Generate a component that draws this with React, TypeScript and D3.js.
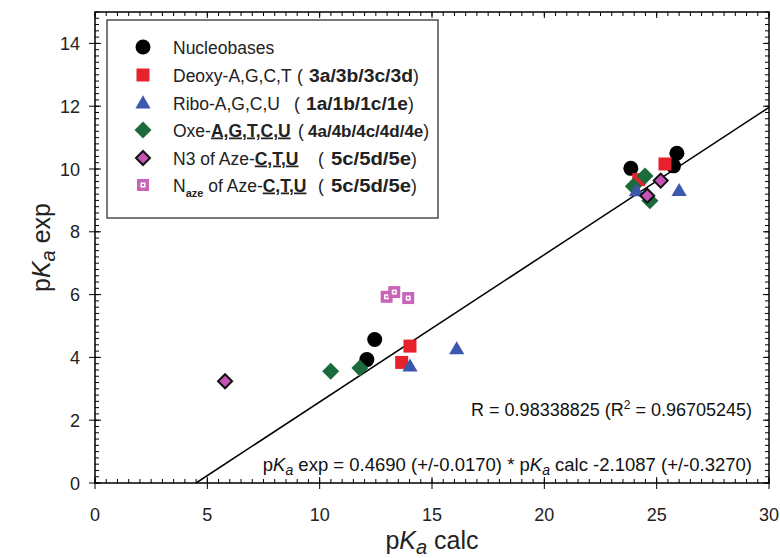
import React from 'react';
import * as d3 from 'd3';

const W = 780;
const H = 558;
const margin = {top: 12, right: 11, bottom: 75, left: 95};

// pKa calc / pKa exp pairs
const nucleobasesCalc = [12.45, 12.1, 23.85, 25.9, 25.75];
const nucleobasesExp = [4.57, 3.93, 10.02, 10.5, 10.1];

const deoxyCalc = [14.02, 13.65, 25.37, 24.2];
const deoxyExp = [4.36, 3.84, 10.16, 9.66];

const riboCalc = [14.02, 16.1, 26.0, 24.1];
const riboExp = [3.72, 4.27, 9.31, 9.3];

const oxeCalc = [10.49, 11.79, 23.96, 24.48, 24.7];
const oxeExp = [3.56, 3.66, 9.45, 9.78, 8.99];

const n3Calc = [5.79, 25.18, 24.58];
const n3Exp = [3.24, 9.63, 9.15];

const nazeCalc = [12.98, 13.32, 13.94];
const nazeExp = [5.93, 6.08, 5.89];

const slope = 0.469;
const intercept = -2.1087;

const xTicks = [0, 5, 10, 15, 20, 25, 30];
const yTicks = [0, 2, 4, 6, 8, 10, 12, 14];

const font = 'Liberation Sans, Arial, sans-serif';

const red = '#e8222c';
const blue = '#3c58ac';
const green = '#1b6b3c';
const purple = '#c455b4';
const pink = '#c964b8';

function zip(xs: number[], ys: number[]) {
  return xs.map((x, i) => ({x, y: ys[i]}));
}

function Marker({kind}: {kind: string}) {
  if (kind === 'circle') return <circle r={7.5} fill="#000" />;
  if (kind === 'square') return <rect x={-6.5} y={-6.5} width={13} height={13} fill={red} />;
  if (kind === 'triangle')
    return <path d={d3.symbol(d3.symbolTriangle, 100)()!} transform="translate(0,1)" fill={blue} />;
  if (kind === 'diamond') return <path d="M0,-8.5L8.5,0L0,8.5L-8.5,0Z" fill={green} />;
  if (kind === 'n3') return <path d="M0,-7L7,0L0,7L-7,0Z" fill={purple} stroke="#111" strokeWidth={2} />;
  return (
    <g>
      <rect x={-6} y={-6} width={12} height={12} fill={pink} />
      <rect x={-2.5} y={-2.5} width={5} height={5} fill="#fff" />
      <rect x={-1} y={-1} width={2} height={2} fill={pink} />
    </g>
  );
}

const series = [
  {kind: 'circle', pts: zip(nucleobasesCalc, nucleobasesExp)},
  {kind: 'square', pts: zip(deoxyCalc, deoxyExp)},
  {kind: 'diamond', pts: zip(oxeCalc, oxeExp)},
  {kind: 'triangle', pts: zip(riboCalc, riboExp)},
  {kind: 'n3', pts: zip(n3Calc, n3Exp)},
  {kind: 'naze', pts: zip(nazeCalc, nazeExp)},
];

export default function App() {
  const x = d3.scaleLinear().domain([0, 30]).range([margin.left, W - margin.right]);
  const y = d3.scaleLinear().domain([0, 15]).range([H - margin.bottom, margin.top]);
  const [x0, x1] = x.range();
  const [y0, y1] = y.range();

  const xMinor = d3.range(0, 30.01, 0.5);
  const yMinor = d3.range(0, 15.01, 0.2);

  const xStart = -intercept / slope;
  const line = d3.line<number>().x((d) => x(d)).y((d) => y(slope * d + intercept));

  const lx = 143;
  const tx = 173;
  const rows = [47, 75, 103, 130, 158, 185];
  const bold = {fontWeight: 'bold'} as const;
  const ul = {fontWeight: 'bold', textDecoration: 'underline'} as const;

  return (
    <svg width={W} height={H} style={{position: 'absolute', left: 0, top: 0}} fontFamily={font}>
      <rect width={W} height={H} fill="#fff" />

      {/* ticks */}
      <g stroke="#000" strokeWidth={1}>
        {xMinor.map((t) => (
          <g key={'xm' + t}>
            <line x1={x(t)} x2={x(t)} y1={y0} y2={y0 - 4} />
            <line x1={x(t)} x2={x(t)} y1={y1} y2={y1 + 4} />
          </g>
        ))}
        {yMinor.map((t) => (
          <g key={'ym' + t}>
            <line x1={x0} x2={x0 + 4} y1={y(t)} y2={y(t)} />
            <line x1={x1} x2={x1 - 4} y1={y(t)} y2={y(t)} />
          </g>
        ))}
        {xTicks.map((t) => (
          <g key={'xM' + t}>
            <line x1={x(t)} x2={x(t)} y1={y0 + 6} y2={y0 - 6} />
            <line x1={x(t)} x2={x(t)} y1={y1} y2={y1 + 6} />
          </g>
        ))}
        {yTicks.map((t) => (
          <g key={'yM' + t}>
            <line x1={x0 - 6} x2={x0 + 6} y1={y(t)} y2={y(t)} />
            <line x1={x1} x2={x1 - 6} y1={y(t)} y2={y(t)} />
          </g>
        ))}
      </g>

      <rect x={x0} y={y1} width={x1 - x0} height={y0 - y1} fill="none" stroke="#000" strokeWidth={1.5} />

      {xTicks.map((t) => (
        <text key={'xl' + t} x={x(t)} y={y0 + 38} textAnchor="middle" fontSize={18} fill="#222">{t}</text>
      ))}
      {yTicks.map((t) => (
        <text key={'yl' + t} x={x0 - 15} y={y(t) + 6.5} textAnchor="end" fontSize={18} fill="#222">{t}</text>
      ))}

      <text x={(x0 + x1) / 2} y={549} textAnchor="middle" fontSize={25} fill="#222">
        p<tspan fontStyle="italic">K</tspan><tspan fontStyle="italic" fontSize={20} dy={5}>a</tspan>
        <tspan dy={-5}> calc</tspan>
      </text>
      <text transform={`translate(50,${(y0 + y1) / 2}) rotate(-90)`} textAnchor="middle" fontSize={25} fill="#222">
        p<tspan fontStyle="italic">K</tspan><tspan fontStyle="italic" fontSize={20} dy={5}>a</tspan>
        <tspan dy={-5}> exp</tspan>
      </text>

      <path d={line([xStart, 30])!} stroke="#000" strokeWidth={1.5} fill="none" />

      {series.map((s) =>
        s.pts.map((p, i) => (
          <g key={s.kind + i} transform={`translate(${x(p.x)},${y(p.y)})`}>
            <Marker kind={s.kind} />
          </g>
        ))
      )}

      <text x={752} y={416} textAnchor="end" fontSize={18} fill="#111">
        R = 0.98338825 (R<tspan dy={-7} fontSize={12}>2</tspan><tspan dy={7}> = 0.96705245)</tspan>
      </text>
      <text x={752} y={471} textAnchor="end" fontSize={18.5} fill="#111">
        p<tspan fontStyle="italic">K</tspan><tspan fontStyle="italic" fontSize={14} dy={4}>a</tspan>
        <tspan dy={-4}> exp = 0.4690 (+/-0.0170) * p</tspan><tspan fontStyle="italic">K</tspan>
        <tspan fontStyle="italic" fontSize={14} dy={4}>a</tspan>
        <tspan dy={-4}> calc -2.1087 (+/-0.3270)</tspan>
      </text>

      {/* legend */}
      <rect x={107} y={20} width={331} height={198} fill="#fff" stroke="#222" strokeWidth={1.2} />
      {['circle', 'square', 'triangle', 'diamond', 'n3', 'naze'].map((k, i) => (
        <g key={'lg' + k} transform={`translate(${lx},${rows[i]})`}>
          <Marker kind={k} />
        </g>
      ))}
      <g fontSize={17.5} fill="#222">
        <text x={tx} y={rows[0] + 6.5}>Nucleobases</text>
        <text x={tx} y={rows[1] + 6.5}>
          Deoxy-A,G,C,T<tspan x={297}>(</tspan>
          <tspan x={309} style={bold} textLength={104} lengthAdjust="spacingAndGlyphs">3a/3b/3c/3d</tspan>)
        </text>
        <text x={tx} y={rows[2] + 6.5}>
          Ribo-A,G,C,U<tspan x={294}>(</tspan>
          <tspan x={306} style={bold} textLength={102} lengthAdjust="spacingAndGlyphs">1a/1b/1c/1e</tspan>)
        </text>
        <text x={tx} y={rows[3] + 6.5}>
          Oxe-<tspan style={ul}>A,G,T,C,U</tspan><tspan x={298}>(</tspan>
          <tspan x={308} style={bold} fontSize={17}>4a/4b/4c/4d/4e</tspan>)
        </text>
        <text x={tx} y={rows[4] + 6.5}>
          N3 of Aze-<tspan style={ul}>C,T,U</tspan><tspan x={318}>(</tspan>
          <tspan x={331} style={bold} textLength={80} lengthAdjust="spacingAndGlyphs">5c/5d/5e</tspan>)
        </text>
        <text x={tx} y={rows[5] + 6.5}>
          N<tspan fontSize={11} dy={5} style={bold}>aze</tspan><tspan dy={-5}> of Aze-</tspan>
          <tspan style={ul}>C,T,U</tspan><tspan x={318}>(</tspan>
          <tspan x={331} style={bold} textLength={80} lengthAdjust="spacingAndGlyphs">5c/5d/5e</tspan>)
        </text>
      </g>
    </svg>
  );
}
